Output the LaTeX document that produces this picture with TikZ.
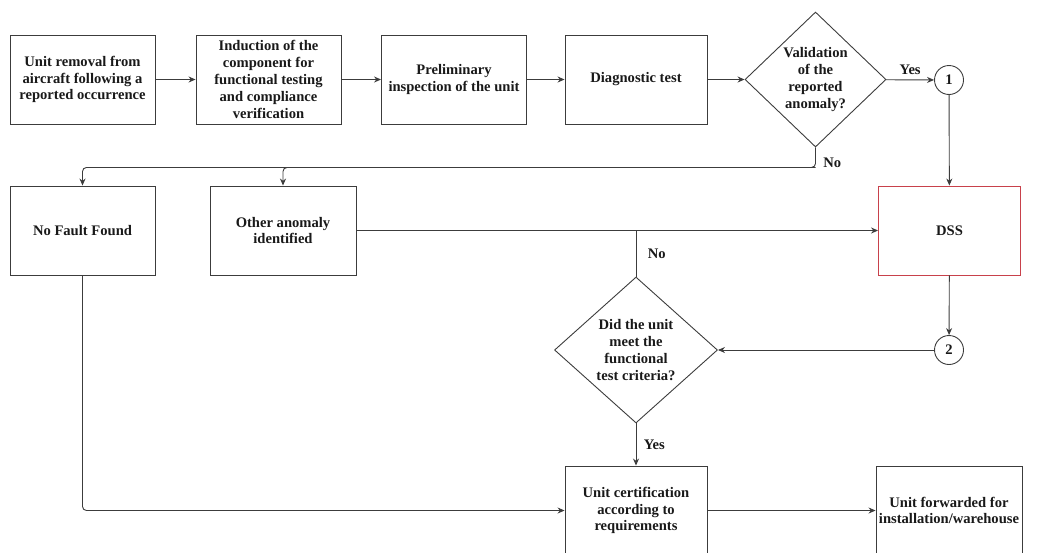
\documentclass[tikz,border=0pt]{standalone}
\usepackage{fontspec}
\setmainfont{Liberation Serif}
\usetikzlibrary{shapes.geometric,calc,arrows.meta}
\definecolor{linegray}{HTML}{3C3C3C}
\definecolor{dssred}{HTML}{C8414B}
\begin{document}
\begin{tikzpicture}[>={Stealth[length=7pt,width=6pt]}, x=1pt, y=-1pt,
  every node/.style={font=\fontsize{14.6}{16.8}\selectfont\bfseries, text=black!90},
  box/.style={draw=linegray, line width=0.9pt, minimum width=145pt, minimum height=89pt, align=center, inner sep=2pt},
  decision/.style={draw=linegray, line width=0.9pt, diamond, align=center, inner sep=0pt},
  conn/.style={draw=linegray, line width=0.9pt, circle, minimum size=29pt, inner sep=0pt},
  flow/.style={draw=linegray, line width=0.9pt, ->}]
\useasboundingbox (0,0) rectangle (1038,552);
\node[box] (removal) at (82.5,79.5) {Unit removal from\\aircraft following a\\reported occurrence};
\node[box] (induction) at (268.5,79.5) {Induction of the\\component for\\functional testing\\and compliance\\verification};
\node[box] (inspect) at (454,79.5) {Preliminary\\inspection of the unit};
\node[box, minimum width=142pt] (diag) at (636,79.5) {Diagnostic test};
\node[decision, minimum width=141pt, minimum height=135pt] (valid) at (815.5,79.5) {Validation\\of the\\reported\\anomaly?};
\node[conn] (c1) at (949,80) {1};
\node[box, draw=dssred, minimum width=142pt] (dss) at (949.5,230.5) {DSS};
\node[box] (nff) at (82.5,230.5) {No Fault Found};
\node[box, minimum width=146pt] (other) at (283,230.5) {Other anomaly\\identified};
\node[decision, minimum width=163pt, minimum height=146pt] (meet) at (636,350) {Did the unit\\meet the\\functional\\test criteria?};
\node[conn] (c2) at (949,350) {2};
\node[box, minimum width=142pt] (cert) at (636,510.5) {Unit certification\\according to\\requirements};
\node[box, minimum width=146pt] (fwd) at (949,510.5) {Unit forwarded for\\installation/warehouse};

\draw[flow] (removal) -- (induction);
\draw[flow] (induction) -- (inspect);
\draw[flow] (inspect) -- (diag);
\draw[flow] (diag) -- (valid);
\draw[flow] (valid) -- node[above, yshift=1pt]{Yes} (c1);
\draw[flow] (c1) -- (dss);
\draw[flow, rounded corners=4pt] (valid.south) -- node[pos=0.75, right, xshift=4pt]{No} ++(0,20) -| (nff.north);
\draw[flow, rounded corners=4pt] ($(valid.south)+(0,20)$) -| (other.north);
\draw[flow] (other) -- (dss);
\draw[flow] (dss) -- (c2);
\draw[flow] (c2) -- (meet);
\draw[draw=linegray, line width=0.9pt] (meet.north) -- node[right, xshift=8pt]{No} (meet.north |- other.east);
\draw[flow] (meet) -- node[right, xshift=4pt]{Yes} (cert);
\draw[flow] (cert) -- (fwd);
\draw[flow, rounded corners=4pt] (nff.south) |- (cert.west);
\end{tikzpicture}
\end{document}
